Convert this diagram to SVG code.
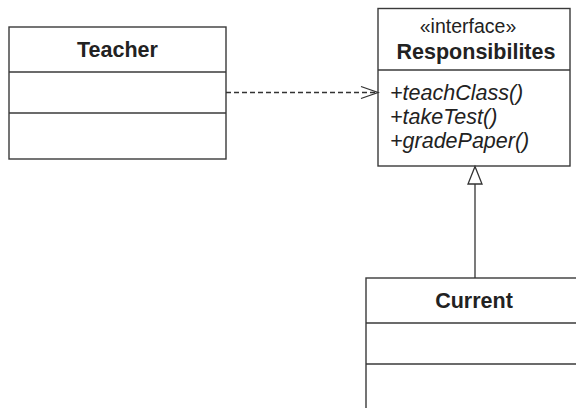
<svg xmlns="http://www.w3.org/2000/svg" width="576" height="408" viewBox="0 0 576 408">
<style>
.box{fill:#fff;stroke:#3a3a3a;stroke-width:1.4}
.div{stroke:#3a3a3a;stroke-width:1.4}
.t{font-family:"Liberation Sans",Arial,sans-serif;fill:#222}
.title{font-size:21.5px;font-weight:bold;text-anchor:middle}
.st{font-size:19.5px;text-anchor:middle}
.m{font-size:21.5px;font-style:italic}
.conn{stroke:#333;stroke-width:1.3;fill:none}
</style>
<rect width="576" height="408" fill="#fff"/>
<g id="Teacher">
<rect class="box" x="9" y="27" width="217" height="132"/>
<line class="div" x1="9" y1="72" x2="226" y2="72"/>
<line class="div" x1="9" y1="113" x2="226" y2="113"/>
<text class="t title" x="117.5" y="57">Teacher</text>
</g>
<g id="Responsibilites">
<rect class="box" x="378" y="8.5" width="192" height="157.5"/>
<line class="div" x1="378" y1="70" x2="570" y2="70"/>
<text class="t st" x="468" y="33">«interface»</text>
<text class="t title" x="476" y="59">Responsibilites</text>
<text class="t m" x="390" y="100">+teachClass()</text>
<text class="t m" x="390" y="124">+takeTest()</text>
<text class="t m" x="390" y="148">+gradePaper()</text>
</g>
<g id="Current">
<rect class="box" x="366" y="278" width="220" height="140"/>
<line class="div" x1="366" y1="323" x2="586" y2="323"/>
<line class="div" x1="366" y1="364" x2="586" y2="364"/>
<text class="t title" x="474" y="308">Current</text>
</g>
<g id="connectors">
<line class="conn" x1="226" y1="92.5" x2="377" y2="92.5" stroke-dasharray="5,3"/>
<polyline class="conn" points="361,86.5 378,92.5 361,98.5"/>
<line class="conn" x1="475" y1="184" x2="475" y2="278"/>
<polygon class="conn" points="475,166.5 468,184 482,184" fill="#fff"/>
</g>
</svg>
